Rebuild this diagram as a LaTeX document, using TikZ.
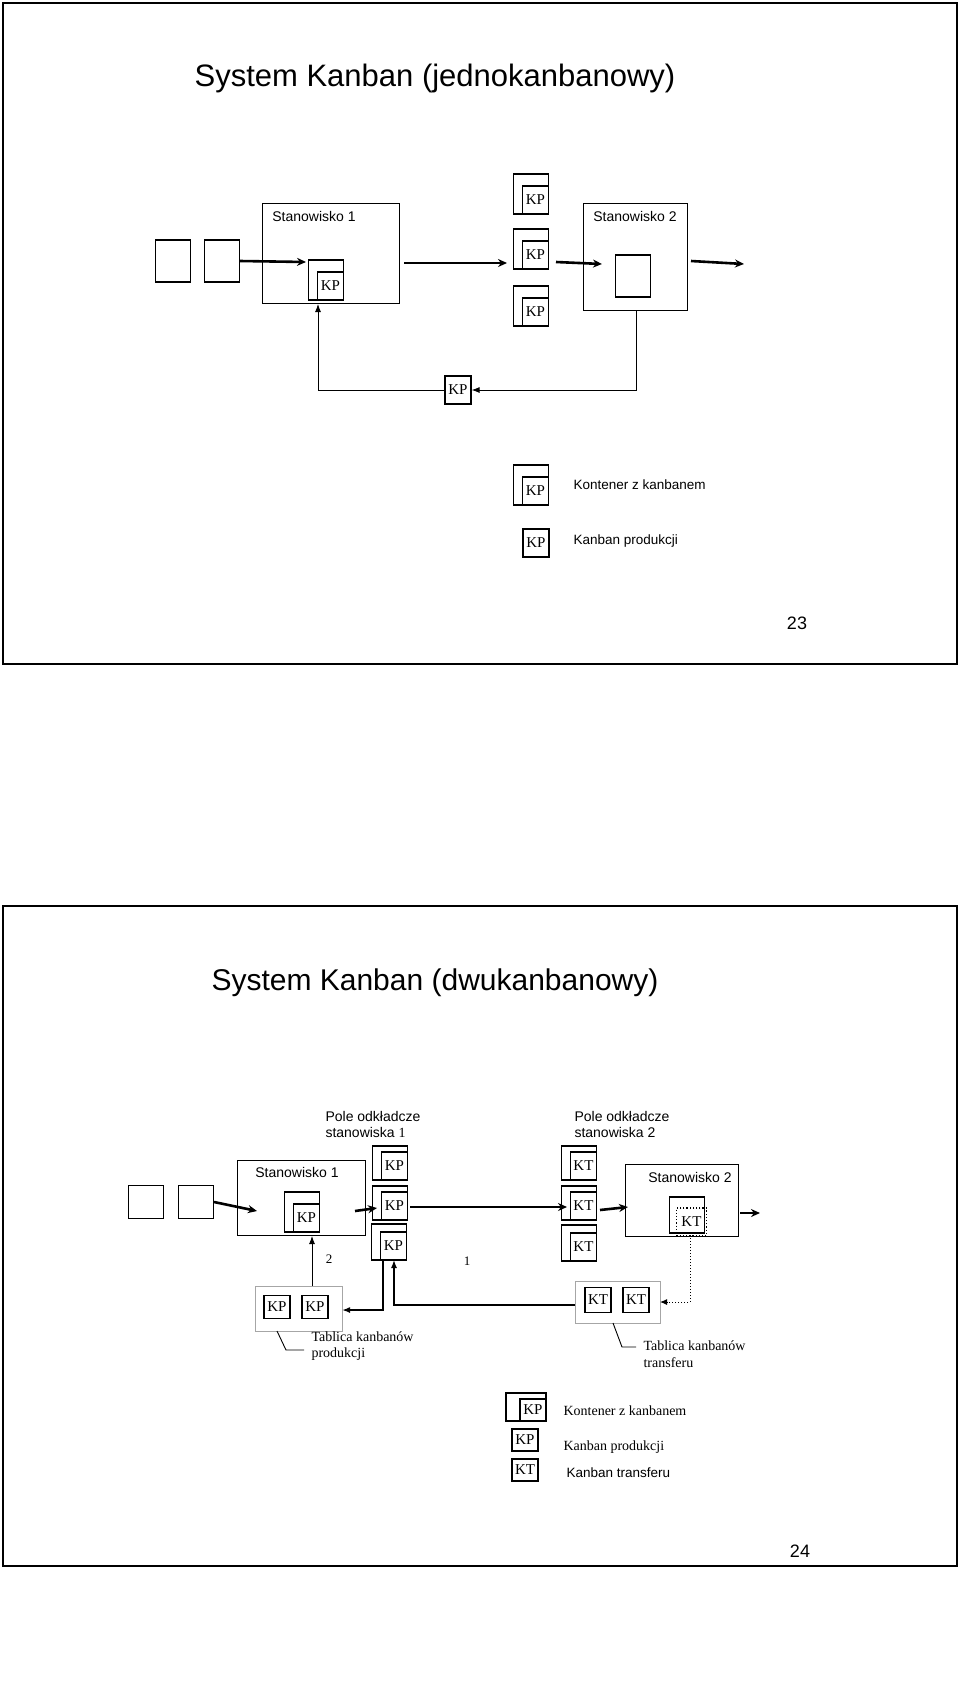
\documentclass[tikz,border=0pt]{standalone}
\usepackage{fontspec}
\setmainfont{Liberation Serif}
\setsansfont{Liberation Sans}
\usetikzlibrary{arrows.meta}
\tikzstyle{slide} = [draw=black, line width=2.5pt]
\tikzstyle{station} = [draw=black, line width=1pt]
\tikzstyle{card} = [draw=black, line width=1.2pt, minimum width=26pt, minimum height=28pt, inner sep=0pt, font=\fontsize{15}{17}\selectfont]
\tikzstyle{box} = [draw=black, line width=1.1pt, minimum width=35pt, minimum height=40pt, inner sep=0pt]
\tikzstyle{board} = [draw=gray!70, line width=1pt, inner sep=0pt]
\tikzstyle{label} = [font=\sffamily\fontsize{14}{16}\selectfont]
\tikzstyle{note} = [font=\fontsize{14}{16.5}\selectfont, align=left, anchor=west]
\tikzstyle{arrow} = [line width=2.6pt, -{Stealth[length=9pt, width=8pt]}]
\tikzstyle{back} = [line width=0.9pt, -{Latex[length=8pt, width=6pt]}]
\begin{document}
\begin{tikzpicture}[x=1pt, y=-1pt]
        \useasboundingbox (0,0) rectangle (960,1695);
        \fill[white] (0,0) rectangle (960,1695);

        % slajd 23
        \draw [slide] (3,3) rectangle (957,664);
        \node (title1) [font=\sffamily\fontsize{31}{36}\selectfont] at (435,78) {System Kanban (jednokanbanowy)};
        \node (in1a) [box, minimum height=42pt] at (173,261) {};
        \node (in1b) [box, minimum height=42pt] at (222,261) {};
        \draw [station] (262,203) rectangle (399,303);
        \node (st1lab) [label] at (314,216) {Stanowisko 1};
        \node (c1) [box] at (326,280) {};
        \node (c1k) [card, anchor=south east] at (c1.south east) {KP};
        \node (p1) [box] at (531,194) {};
        \node (p1k) [card, anchor=south east] at (p1.south east) {KP};
        \node (p2) [box] at (531,249) {};
        \node (p2k) [card, anchor=south east] at (p2.south east) {KP};
        \node (p3) [box] at (531,306) {};
        \node (p3k) [card, anchor=south east] at (p3.south east) {KP};
        \draw [station] (583,203) rectangle (687,310);
        \node (st2lab) [label] at (635,216) {Stanowisko 2};
        \node (s2in) [box, minimum height=42pt] at (633,276) {};
        \node (ret) [card] at (458,390) {KP};
        \coordinate (down2) at (636,310);
        \coordinate (up1) at (318,304);

        \draw [arrow] (in1b.east) -- (306,262);
        \draw [arrow] (404,263) -- (507,263);
        \draw [arrow] (556,262) -- (602,264);
        \draw [arrow] (691,261) -- (744,264);
        \draw [back] (down2) |- (ret.east);
        \draw [back] (ret.west) -| (up1);

        \node (leg1) [box] at (531,485) {};
        \node (leg1k) [card, anchor=south east] at (leg1.south east) {KP};
        \node (leg1t) [note, font=\sffamily\fontsize{13.5}{16}\selectfont] at (570,485) {Kontener z kanbanem};
        \node (leg2) [card] at (536,543) {KP};
        \node (leg2t) [note, font=\sffamily\fontsize{13.5}{16}\selectfont] at (570,541) {Kanban produkcji};
        \node (num23) [font=\sffamily\fontsize{18}{20}\selectfont] at (797,623) {23};

        % slajd 24
        \draw [slide] (3,906) rectangle (957,1566);
        \node (title2) [font=\sffamily\fontsize{30}{36}\selectfont] at (435,983) {System Kanban (dwukanbanowy)};
        \node (pole1) [label, align=left] at (373,1124) {Pole odkładcze\\stanowiska {\rmfamily 1}};
        \node (pole2) [label, align=left] at (622,1124) {Pole odkładcze\\stanowiska 2};
        \node (in2a) [box, minimum height=33pt] at (146,1202) {};
        \node (in2b) [box, minimum height=33pt] at (196,1202) {};
        \draw [station] (237,1160) rectangle (365,1235);
        \node (st3lab) [label] at (297,1172) {Stanowisko 1};
        \node (c2) [box] at (302,1212) {};
        \node (c2k) [card, anchor=south east] at (c2.south east) {KP};
        \node (q1) [box, minimum height=34pt] at (390,1163) {};
        \node (q1k) [card, anchor=south east] at (q1.south east) {KP};
        \node (q2) [box, minimum height=34pt] at (390,1203) {};
        \node (q2k) [card, anchor=south east] at (q2.south east) {KP};
        \node (q3) [box, minimum height=36pt] at (389,1242) {};
        \node (q3k) [card, anchor=south east] at (q3.south east) {KP};
        \node (t1) [box, minimum height=34pt] at (579,1163) {};
        \node (t1k) [card, anchor=south east] at (t1.south east) {KT};
        \node (t2) [box, minimum height=34pt] at (579,1203) {};
        \node (t2k) [card, anchor=south east] at (t2.south east) {KT};
        \node (t3) [box, minimum height=36pt] at (579,1243) {};
        \node (t3k) [card, anchor=south east] at (t3.south east) {KT};
        \draw [station] (625,1164) rectangle (738,1236);
        \node (st4lab) [label] at (690,1177) {Stanowisko 2};
        \node (c3) [box, minimum height=36pt] at (687,1215) {};
        \node (c3k) [card, dotted, anchor=south east, minimum width=30pt] at ([xshift=2pt, yshift=-3pt]c3.south east) {KT};
        \node (n2) [font=\fontsize{13}{15}\selectfont] at (329,1259) {2};
        \node (n1) [font=\fontsize{13}{15}\selectfont] at (467,1261) {1};

        \draw [board] (255,1286) rectangle (342,1331);
        \node (bp1) [card, minimum height=23pt] at (277,1307) {KP};
        \node (bp2) [card, minimum height=23pt] at (315,1307) {KP};
        \draw [board] (575,1281) rectangle (660,1323);
        \node (bt1) [card, minimum height=25pt] at (598,1300) {KT};
        \node (bt2) [card, minimum height=25pt] at (636,1300) {KT};
        \coordinate (boardp) at (312,1286);
        \coordinate (boardpr) at (342,1310);
        \coordinate (boardt) at (575,1305);
        \coordinate (boardtr) at (660,1302);

        \draw [arrow] (in2b.east) -- (257,1211);
        \draw [arrow] (355,1211) -- (377,1208);
        \draw [arrow] (410,1207) -- (567,1207);
        \draw [arrow] (600,1210) -- (628,1207);
        \draw [arrow] (740,1213) -- (760,1213);
        \draw [back] (boardp) -- (312,1236);
        \draw [line width=1.7pt, -{Latex[length=8pt, width=6pt]}] (383,1260) |- (boardpr);
        \draw [line width=1.3pt, -{Latex[length=8pt, width=6pt]}] (boardt) -| (394,1260);
        \draw [dotted, line width=1pt, -{Latex[length=7pt, width=6pt]}] (690,1235) |- (boardtr);

        \draw [line width=0.9pt] (277,1331) -- (286,1350) -- (304,1350);
        \node (tabp) [note] at (308,1346) {Tablica kanbanów\\produkcji};
        \draw [line width=0.9pt] (613,1323) -- (622,1347) -- (636,1347);
        \node (tabt) [note] at (640,1354) {Tablica kanbanów\\transferu};

        \node (leg3) [box, minimum width=40pt, minimum height=28pt] at (526,1407) {};
        \node (leg3k) [card, minimum height=22pt, anchor=south east] at (leg3.south east) {KP};
        \node (leg3t) [note] at (560,1411) {Kontener z kanbanem};
        \node (leg4) [card, minimum height=22pt] at (525,1440) {KP};
        \node (leg4t) [note] at (560,1447) {Kanban produkcji};
        \node (leg5) [card, minimum height=22pt] at (525,1470) {KT};
        \node (leg5t) [note, font=\sffamily\fontsize{13.5}{16}\selectfont] at (563,1473) {Kanban transferu};
        \node (num24) [font=\sffamily\fontsize{18}{20}\selectfont] at (800,1551) {24};
    \end{tikzpicture}
\end{document}
